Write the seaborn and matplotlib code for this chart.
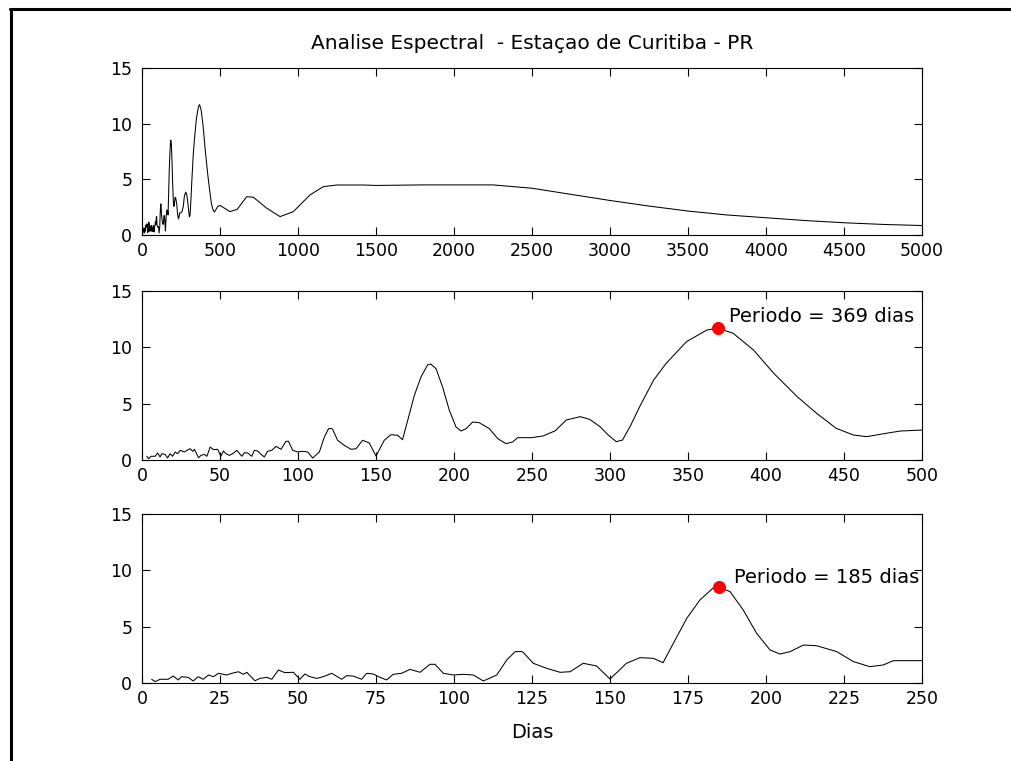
import numpy as np
import pandas as pd
import seaborn as sns
import matplotlib
matplotlib.use("Agg")
import matplotlib.pyplot as plt
from matplotlib.lines import Line2D

# =========================
# Dados (periodo em dias, amplitude espectral)
# =========================
periodo = [
    3.1, 4.2, 5.8, 8.4, 10, 11.6, 12.7, 14.8, 16.4, 18, 19.6, 21.3, 22.9, 24.5,
    27.1, 28.8, 30.9, 32.5, 33.6, 36.2, 37.8, 40, 41.6, 43.7, 45.8, 48.5, 50.6,
    52.2, 53.8, 56, 58.1, 60.8, 64, 65.6, 67.7, 70.4, 72, 74.1, 76.3, 78.4, 80.5,
    83.2, 85.9, 89.1, 92.3, 93.9, 96.6, 99.8, 103, 106.2, 109.4, 113.7, 116.9,
    119.6, 121.5, 122.2, 125.4, 129.7, 134, 137.2, 141.4, 145.7, 150, 155.3,
    159.6, 163.9, 167, 170.3, 174.6, 178.8, 183.1, 185, 188.5, 192.7, 197, 201.3,
    204.5, 207.7, 212, 216.2, 222.7, 228, 233.3, 237.6, 240.8, 249.4, 257, 265,
    272, 281, 287, 293.6, 299, 304, 308, 313, 319, 328, 336, 349, 362, 369, 379,
    392, 405, 420, 432.5, 445, 456, 464.5, 477, 486, 500,
    530, 564, 610, 671, 714, 800, 885, 970, 1077, 1162, 1248, 1419, 1500, 1800,
    2000, 2250, 2500, 2750, 3000, 3250, 3500, 3750, 4000, 4250, 4500, 4750, 5000,
]
amplitude = [
    0.33, 0.12, 0.33, 0.33, 0.62, 0.27, 0.56, 0.50, 0.18, 0.56, 0.33, 0.71, 0.56, 0.86,
    0.71, 0.86, 1.0, 0.77, 0.95, 0.20, 0.41, 0.5, 0.33, 1.15, 0.92, 0.95, 0.33,
    0.80, 0.56, 0.41, 0.56, 0.86, 0.33, 0.65, 0.62, 0.33, 0.86, 0.80, 0.50, 0.27, 0.77,
    0.86, 1.21, 0.95, 1.66, 1.66, 0.86, 0.71, 0.77, 0.71, 0.18, 0.71, 2.04,
    2.78, 2.80, 2.72, 1.75, 1.30, 0.95, 1.0, 1.75, 1.51, 0.35, 1.75,
    2.25, 2.19, 1.8, 3.52, 5.74, 7.36, 8.45, 8.52, 8.1, 6.48, 4.41, 2.93,
    2.57, 2.78, 3.37, 3.31, 2.78, 1.9, 1.45, 1.6, 1.98, 1.98, 2.13, 2.6,
    3.55, 3.85, 3.6, 2.96, 2.2, 1.63, 1.77, 3.0, 4.73, 7.1, 8.58, 10.5, 11.53, 11.71, 11.24,
    9.76, 7.69, 5.62, 4.14, 2.81, 2.22, 2.07, 2.37, 2.57, 2.66,
    2.4, 2.1, 2.3, 3.44, 3.39, 2.4, 1.65, 2.1, 3.6, 4.34, 4.49, 4.49, 4.45, 4.5,
    4.5, 4.5, 4.2, 3.65, 3.1, 2.6, 2.15, 1.8, 1.55, 1.3, 1.1, 0.95, 0.85,
]

pico_periodo = [369, 185]
pico_amp = [11.71, 8.52]
pico_texto = ["Periodo = 369 dias", "Periodo = 185 dias"]

xlims = [5000, 500, 250]
xpassos = [500, 50, 25]
yticks = [0, 5, 10, 15]

df = pd.DataFrame({"periodo": periodo, "amp": amplitude})

# =========================
# Estilo
# =========================
sns.set_style("ticks")
plt.rcParams["font.family"] = ["DejaVu Sans"]
plt.rcParams["axes.linewidth"] = 0.8
plt.rcParams["text.color"] = "black"
plt.rcParams["axes.labelcolor"] = "black"

W, H = 1011, 761
fig = plt.figure(figsize=(W / 100, H / 100), dpi=100)

# posicoes dos eixos (pixels: topo, base)
caixas = [(68, 235), (291, 460), (514, 683)]
esq, dir_ = 142, 922

eixos = []
for i, (topo, base) in enumerate(caixas):
    ax = fig.add_axes([esq / W, 1 - base / H, (dir_ - esq) / W, (base - topo) / H])
    sns.lineplot(data=df, x="periodo", y="amp", ax=ax, color="k",
                 lw=0.75, estimator=None)
    ax.set_xlim(0, xlims[i])
    ax.set_ylim(0, 15)
    ax.set_xticks(np.arange(0, xlims[i] + 1, xpassos[i]))
    ax.set_yticks(yticks)
    ax.tick_params(axis="both", which="both", direction="in", top=True,
                   right=True, length=5.5, width=0.8, labelsize=12.5,
                   colors="k")
    ax.tick_params(axis="x", pad=5)
    ax.tick_params(axis="y", pad=7)
    ax.set_xlabel("")
    ax.set_ylabel("")
    for s in ax.spines.values():
        s.set_color("k")
    eixos.append(ax)

eixos[0].set_title("Analise Espectral  - Estaçao de Curitiba - PR",
                   fontsize=14.5, pad=14, color="k")
eixos[2].set_xlabel("Dias", fontsize=14, labelpad=11, color="k")

# picos marcados
offsets = [(8, 8), (11, 7)]
for j, ax in enumerate(eixos[1:]):
    sns.scatterplot(x=[pico_periodo[j]], y=[pico_amp[j]], ax=ax, color="red",
                    edgecolor="red", s=75, zorder=5, legend=False)
    ax.annotate(pico_texto[j], (pico_periodo[j], pico_amp[j]),
                xytext=offsets[j], textcoords="offset points",
                ha="left", va="center", fontsize=14, color="k")

# moldura da janela
fig.add_artist(Line2D([9.5 / W, 1], [1 - 8.5 / H, 1 - 8.5 / H], color="k",
                      lw=2.2, transform=fig.transFigure))
fig.add_artist(Line2D([10.5 / W, 10.5 / W], [0, 1 - 8.5 / H], color="k",
                      lw=2.2, transform=fig.transFigure))

fig.savefig("out.png", dpi=100, facecolor="white")
